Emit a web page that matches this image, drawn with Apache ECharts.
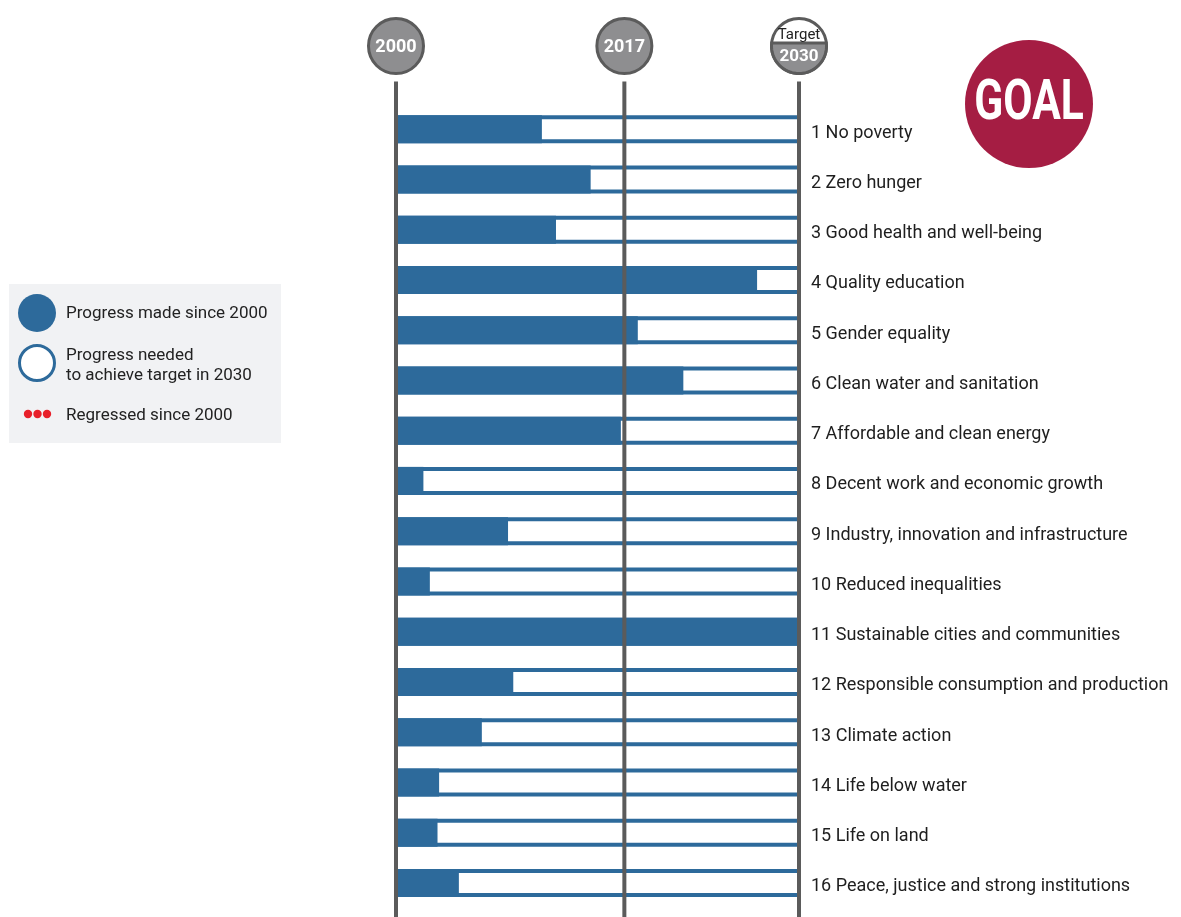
<!DOCTYPE html>
<html>
<head>
<meta charset="utf-8">
<script src="https://cdn.jsdelivr.net/npm/echarts@6/dist/echarts.min.js"></script>
<style>
html,body{margin:0;padding:0;background:#fff;}
#chart{width:1181px;height:917px;}
</style>
</head>
<body>
<div id="chart"></div>
<script>
// ---- data ----
var goals = [
  '1 No poverty',
  '2 Zero hunger',
  '3 Good health and well-being',
  '4 Quality education',
  '5 Gender equality',
  '6 Clean water and sanitation',
  '7 Affordable and clean energy',
  '8 Decent work and economic growth',
  '9 Industry, innovation and infrastructure',
  '10 Reduced inequalities',
  '11 Sustainable cities and communities',
  '12 Responsible consumption and production',
  '13 Climate action',
  '14 Life below water',
  '15 Life on land',
  '16 Peace, justice and strong institutions'
];
// progress made since 2000, % of the distance to the 2030 target
var progressMade = [36.2, 48.3, 39.7, 89.6, 60.0, 71.3, 55.8, 6.8, 27.8, 8.4, 100, 29.1, 21.3, 10.7, 10.3, 15.6];
// full distance to the target
var targetLevel = [100, 100, 100, 100, 100, 100, 100, 100, 100, 100, 100, 100, 100, 100, 100, 100];
var milestoneYears = [2000, 2017, 2030];
var milestoneLabels = ['2000', '2017', '2030'];
var startYear = 2000, targetYear = 2030;

var BLUE = '#2d6a9b';
var GRAY_LINE = '#5b5b5b';
var GRAY_FILL = '#8e8e90';
var FONT = 'Roboto, "Noto Sans", sans-serif';

var chart = echarts.init(document.getElementById('chart'), null, {renderer: 'canvas'});

chart.setOption({
  backgroundColor: '#ffffff',
  animation: false,
  grid: {left: 396, right: 382, top: 104, bottom: 9, containLabel: false},
  xAxis: {
    type: 'value', min: 0, max: 100, show: false
  },
  yAxis: [
    {
      type: 'category', data: goals, inverse: true, position: 'right',
      axisLine: {show: false}, axisTick: {show: false}, splitLine: {show: false},
      axisLabel: {
        margin: 12, align: 'left',
        formatter: function (v) { return '{t|' + v + '}'; },
        rich: {
          t: {color: '#1e1e1e', fontSize: 18, fontFamily: FONT, padding: [8, 0, 0, 0]}
        }
      }
    },
    {
      type: 'category', data: goals, inverse: true, show: false
    }
  ],
  series: [
    {
      name: 'Target outline',
      type: 'bar', data: targetLevel, barWidth: 28, z: 1, yAxisIndex: 0,
      itemStyle: {color: BLUE}, silent: true
    },
    {
      name: 'Progress made since 2000',
      type: 'bar', data: progressMade, barWidth: 28, barGap: '-100%', z: 3, yAxisIndex: 0,
      itemStyle: {color: BLUE}
    },
    {
      name: 'Progress needed to achieve target in 2030',
      type: 'bar', data: targetLevel, barWidth: 20, z: 2, yAxisIndex: 1,
      itemStyle: {color: '#ffffff'}
    }
  ]
});

// ---- decorations placed from the axis scale ----
var graphics = [];
var circleY = 46, circleR = 27.5;
milestoneYears.forEach(function (yr, i) {
  var v = (yr - startYear) / (targetYear - startYear) * 100;
  var x = chart.convertToPixel({xAxisIndex: 0}, v);
  graphics.push({
    type: 'line', z: 100,
    shape: {x1: x, y1: circleY + circleR + 8, x2: x, y2: 917},
    style: {stroke: GRAY_LINE, lineWidth: 4}
  });
  if (yr === targetYear) {
    graphics.push({
      type: 'circle', z: 100,
      shape: {cx: x, cy: circleY, r: circleR},
      style: {fill: '#ffffff', stroke: GRAY_LINE, lineWidth: 3}
    });
    // lower gray part below chord at y = circleY - 3
    var pts = [];
    var d = -3;
    var a0 = Math.asin(d / circleR);
    var n = 40;
    for (var k = 0; k <= n; k++) {
      var a = a0 + (Math.PI - 2 * a0) * k / n;
      pts.push([x + circleR * Math.cos(a), circleY + circleR * Math.sin(a)]);
    }
    graphics.push({
      type: 'polygon', z: 101,
      shape: {points: pts},
      style: {fill: GRAY_FILL, stroke: GRAY_LINE, lineWidth: 3}
    });
    graphics.push({
      type: 'text', z: 102, x: x, y: circleY - 11,
      style: {text: 'Target', fill: '#222222', fontSize: 15, fontFamily: FONT, align: 'center', verticalAlign: 'middle'}
    });
    graphics.push({
      type: 'text', z: 102, x: x, y: circleY + 11,
      style: {text: milestoneLabels[i], fill: '#ffffff', fontSize: 17, fontWeight: 'bold', fontFamily: FONT, align: 'center', verticalAlign: 'middle'}
    });
  } else {
    graphics.push({
      type: 'circle', z: 100,
      shape: {cx: x, cy: circleY, r: circleR},
      style: {fill: GRAY_FILL, stroke: GRAY_LINE, lineWidth: 3}
    });
    graphics.push({
      type: 'text', z: 102, x: x, y: circleY + 1,
      style: {text: milestoneLabels[i], fill: '#ffffff', fontSize: 18, fontWeight: 'bold', fontFamily: FONT, align: 'center', verticalAlign: 'middle'}
    });
  }
});

// GOAL badge
graphics.push({
  type: 'circle', z: 100,
  shape: {cx: 1029, cy: 104, r: 64},
  style: {fill: '#a51d43'}
});
graphics.push({
  type: 'text', z: 101, x: 1029, y: 105, scaleX: 0.76,
  style: {text: 'GOAL', fill: '#ffffff', fontSize: 56, fontWeight: 'bold', fontFamily: FONT, align: 'center', verticalAlign: 'middle'}
});

// legend box
graphics.push({
  type: 'rect', z: 100,
  shape: {x: 9, y: 284, width: 272, height: 159},
  style: {fill: '#f1f2f4'}
});
graphics.push({
  type: 'circle', z: 101, shape: {cx: 37, cy: 313, r: 19}, style: {fill: BLUE}
});
graphics.push({
  type: 'circle', z: 101, shape: {cx: 37, cy: 363, r: 17.5}, style: {fill: '#ffffff', stroke: BLUE, lineWidth: 3}
});
[28, 37.5, 47].forEach(function (cx) {
  graphics.push({type: 'circle', z: 101, shape: {cx: cx, cy: 414, r: 4.2}, style: {fill: '#e8202a'}});
});
var legendTexts = [
  ['Progress made since 2000', 314],
  ['Progress needed', 356],
  ['to achieve target in 2030', 376],
  ['Regressed since 2000', 416]
];
legendTexts.forEach(function (t) {
  graphics.push({
    type: 'text', z: 101, x: 66, y: t[1],
    style: {text: t[0], fill: '#222222', fontSize: 17, fontFamily: FONT, align: 'left', verticalAlign: 'middle'}
  });
});

chart.setOption({graphic: graphics});
</script>
</body>
</html>
